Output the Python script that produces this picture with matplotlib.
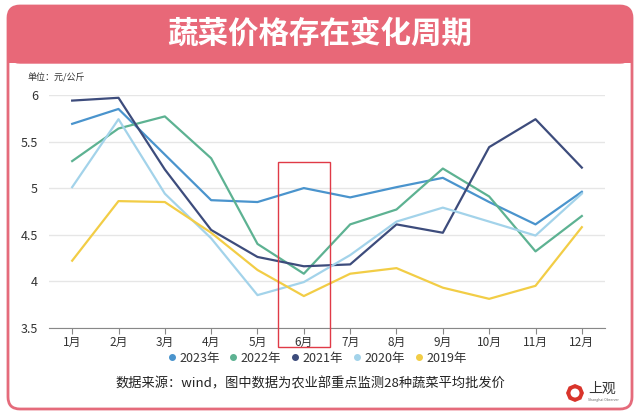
import matplotlib.pyplot as plt
from matplotlib.patches import FancyBboxPatch, Rectangle, RegularPolygon
from matplotlib.lines import Line2D

plt.rcParams['font.family'] = ['Noto Sans CJK SC', 'DejaVu Sans']

months = ['1月', '2月', '3月', '4月', '5月', '6月', '7月', '8月', '9月', '10月', '11月', '12月']
years = ['2023年', '2022年', '2021年', '2020年', '2019年']
y2023 = [5.69, 5.85, 5.36, 4.87, 4.85, 5.00, 4.90, 5.01, 5.11, 4.85, 4.61, 4.96]
y2022 = [5.29, 5.64, 5.77, 5.32, 4.40, 4.08, 4.61, 4.77, 5.21, 4.91, 4.32, 4.70]
y2021 = [5.94, 5.97, 5.20, 4.55, 4.26, 4.16, 4.18, 4.61, 4.52, 5.44, 5.74, 5.22]
y2020 = [5.01, 5.74, 4.94, 4.46, 3.85, 3.99, 4.28, 4.64, 4.79, 4.64, 4.49, 4.94]
y2019 = [4.22, 4.86, 4.85, 4.52, 4.12, 3.84, 4.08, 4.14, 3.93, 3.81, 3.95, 4.58]
series = [y2023, y2022, y2021, y2020, y2019]
colors = ['#4a94cd', '#5db292', '#3d4c7c', '#a3d3ea', '#f2cd46']
yticks = [3.5, 4, 4.5, 5, 5.5, 6]

fig = plt.figure(figsize=(6.4, 4.15), dpi=100)

# background layer in pixel coordinates
bg = fig.add_axes([0, 0, 1, 1])
bg.set_xlim(0, 640)
bg.set_ylim(415, 0)
bg.axis('off')
card = FancyBboxPatch((8, 6), 624, 403, boxstyle='round,pad=0,rounding_size=12',
                      fc='white', ec='#e56b7b', lw=2)
bg.add_patch(card)
banner = FancyBboxPatch((8, 6), 624, 57, boxstyle='round,pad=0,rounding_size=12',
                        fc='#e86878', ec='#e86878', lw=1)
bg.add_patch(banner)
bg.add_patch(Rectangle((8, 45), 624, 18, fc='#e86878', ec='none'))
bg.text(320, 34, '蔬菜价格存在变化周期', color='white', fontsize=22, fontweight='bold',
        ha='center', va='center')
bg.text(27, 78, '单位：元/公斤', fontsize=6.5, color='#333333', va='center')
bg.text(310, 384, '数据来源：wind，图中数据为农业部重点监测28种蔬菜平均批发价', fontsize=9.5,
        color='#222222', ha='center', va='center')
# logo
bg.add_patch(RegularPolygon((575, 393), 8, radius=9, fc='#d9342b', ec='none'))
bg.add_patch(plt.Circle((575, 393), 4.5, fc='white', ec='none'))
bg.text(588, 389, '上观', fontsize=10, color='#333333', va='center')
bg.text(588, 400, 'Shanghai Observer', fontsize=2.5, color='#666666', va='center')

ax = fig.add_axes([49 / 640, 1 - 327.7 / 415, (605 - 49) / 640, (327.7 - 95) / 415])
x = list(range(1, 13))
for ys, c in zip(series, colors):
    ax.plot(x, ys, color=c, lw=1.6, zorder=3)
ax.set_xlim(0.5, 12.5)
ax.set_ylim(3.5, 6)
ax.set_xticks(x)
ax.set_xticklabels(months, fontsize=8.5, color='#333333')
ax.set_yticks(yticks)
ax.set_yticklabels([f'{v:g}' for v in yticks], fontsize=9, color='#333333')
ax.tick_params(axis='y', length=0, pad=8)
ax.tick_params(axis='x', length=4, color='#888888', pad=2)
ax.grid(axis='y', color='#e6e6e6', lw=1)
ax.set_axisbelow(True)
for s in ['top', 'right', 'left']:
    ax.spines[s].set_visible(False)
ax.spines['bottom'].set_color('#888888')
ax.patch.set_alpha(0)

# highlight box around June
ax.add_patch(Rectangle((5.44, 3.29), 1.12, 5.28 - 3.29, fill=False, ec='#e03a47',
                       lw=1.0, clip_on=False, zorder=5))

handles = [Line2D([], [], marker='o', ls='', ms=4, color=c) for c in colors]
fig.legend(handles, years, loc='center', bbox_to_anchor=(316 / 640, 1 - 358 / 415),
           ncol=5, frameon=False, fontsize=9, handletextpad=0.1, columnspacing=0.6,
           handlelength=1.0, labelcolor='#333333')

fig.savefig('out.png', dpi=100)
